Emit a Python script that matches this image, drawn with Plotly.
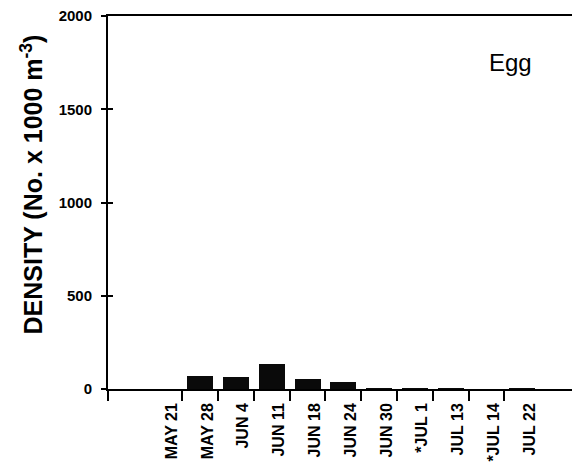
import plotly.graph_objects as go

dates = ["MAY 21", "MAY 28", "JUN 4", "JUN 11", "JUN 18", "JUN 24",
         "JUN 30", "*JUL 1", "JUL 13", "*JUL 14", "JUL 22"]
density = [0, 69, 63, 135, 51, 40, 2, 1, 1, 0, 1]
y_ticks = [0, 500, 1000, 1500, 2000]

FONT = "Liberation Sans, Arial, Helvetica, sans-serif"
idx = list(range(len(dates)))

fig = go.Figure()
fig.add_trace(go.Bar(x=idx, y=density, width=0.73,
                     marker=dict(color="#0a0a0a", line=dict(width=0)),
                     showlegend=False))
# invisible trace to bind secondary axes
fig.add_trace(go.Scatter(x=[idx[0]], y=[0], xaxis="x2", yaxis="y2",
                         mode="markers", marker=dict(opacity=0),
                         showlegend=False, hoverinfo="skip"))

xr = [-1.575, 11.61]
boundaries = [xr[0]] + [i + 0.5 for i in idx[:-1]]

fig.update_layout(
    width=580, height=470,
    margin=dict(l=100, r=8, t=8, b=89),
    paper_bgcolor="white", plot_bgcolor="white",
    font=dict(family=FONT, color="black"),
    bargap=0,
    xaxis=dict(range=xr, tickvals=boundaries, showticklabels=False,
               ticks="outside", ticklen=10, tickwidth=2, tickcolor="black",
               showline=True, linewidth=2, linecolor="black", mirror=True,
               showgrid=False, zeroline=False, automargin=False),
    xaxis2=dict(range=xr, overlaying="x", tickvals=[i + 0.2 for i in idx],
                ticktext=[f"<b>{d}</b>" for d in dates], tickangle=-90,
                tickfont=dict(size=16, family=FONT, color="black"),
                ticklabeloverflow="allow",
                ticks="", ticklabelstandoff=10, showline=False, showgrid=False,
                zeroline=False, side="bottom", anchor="y", automargin=False),
    yaxis=dict(range=[0, 2000], tickvals=y_ticks,
               ticktext=[f"<b>{v}</b>" for v in y_ticks],
               tickfont=dict(size=15, family=FONT, color="black"),
               ticklabeloverflow="allow",
               ticks="outside", ticklen=5, tickwidth=2, tickcolor="black",
               ticklabelstandoff=6,
               showline=True, linewidth=2, linecolor="black",
               showgrid=False, zeroline=False, automargin=False),
    yaxis2=dict(range=[0, 2000], overlaying="y", tickvals=y_ticks,
                showticklabels=False, ticks="inside", ticklen=5, tickwidth=2,
                tickcolor="black", showline=False, showgrid=False,
                zeroline=False, side="left", anchor="x", automargin=False),
    annotations=[
        dict(text="<b>DENSITY (No. x 1000 m<sup>-3</sup>)</b>", textangle=-90,
             xref="paper", yref="paper", x=-0.162, y=0.547,
             xanchor="center", yanchor="middle", showarrow=False,
             font=dict(size=25, family=FONT, color="black")),
        dict(text="Egg", xref="paper", yref="paper", x=0.852, y=0.874,
             xanchor="center", yanchor="middle", showarrow=False,
             font=dict(size=24, family=FONT, color="black")),
    ],
)

fig.write_html("out.html")
